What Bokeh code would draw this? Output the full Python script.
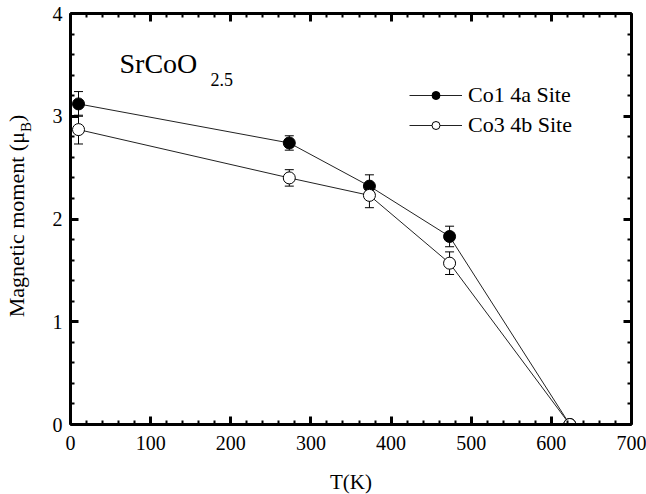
from bokeh.plotting import figure
from bokeh.models import (ColumnDataSource, Whisker, Label, Legend, LegendItem,
                          LinearAxis, SingleIntervalTicker, Range1d, Div)
from bokeh.layouts import row
from bokeh.embed import file_html
from bokeh.resources import INLINE

# ---- data ----
temp = [10, 273, 373, 473, 623]
co1 = [3.12, 2.74, 2.32, 1.83, 0.0]
co1_err = [0.12, 0.07, 0.11, 0.10, 0.0]
co3 = [2.87, 2.40, 2.23, 1.57, 0.0]
co3_err = [0.14, 0.08, 0.12, 0.11, 0.0]
series_names = ["Co1 4a Site", "Co3 4b Site"]
x_ticks_interval = 100
y_ticks_interval = 1

FONT = "Liberation Serif"

def src(y, e):
    return ColumnDataSource(dict(x=temp, y=y,
                                 lo=[a - b for a, b in zip(y, e)],
                                 hi=[a + b for a, b in zip(y, e)]))

s1 = src(co1, co1_err)
s3 = src(co3, co3_err)

LEFT_W = 34

p = figure(frame_width=561, frame_height=411, output_backend="svg",
           toolbar_location=None, x_range=Range1d(0, 700), y_range=Range1d(0, 4),
           min_border_left=70 - LEFT_W, min_border_top=13, min_border_right=15,
           min_border_bottom=40, x_axis_type=None, y_axis_type=None, margin=0)
p.xgrid.visible = False
p.ygrid.visible = False
p.outline_line_color = None
p.background_fill_color = "white"
p.border_fill_color = "white"

def style_axis(ax, labels=True):
    ax.axis_line_width = 3
    ax.axis_line_color = "black"
    ax.major_tick_in = 8
    ax.major_tick_out = 0
    ax.minor_tick_in = 4
    ax.minor_tick_out = 0
    ax.major_tick_line_width = 3
    ax.minor_tick_line_width = 2
    ax.major_tick_line_color = "black"
    ax.minor_tick_line_color = "black"
    ax.major_label_text_font = FONT
    ax.major_label_text_color = "black"
    if labels:
        ax.major_label_text_font_size = "20px"
    else:
        ax.major_label_text_font_size = "0px"
        ax.major_label_standoff = 0

xt = SingleIntervalTicker(interval=x_ticks_interval, num_minor_ticks=5)
yt = SingleIntervalTicker(interval=y_ticks_interval, num_minor_ticks=5)

xb = LinearAxis(ticker=xt, axis_label="T(K)")
style_axis(xb)
xb.major_label_standoff = 11
xb.axis_label_standoff = 17
xb.axis_label_text_font = FONT
xb.axis_label_text_font_size = "21px"
xb.axis_label_text_font_style = "normal"
xb.axis_label_text_color = "black"
p.add_layout(xb, "below")

yl = LinearAxis(ticker=yt)
style_axis(yl)
yl.major_label_standoff = 8
p.add_layout(yl, "left")

xa = LinearAxis(ticker=xt)
style_axis(xa, labels=False)
p.add_layout(xa, "above")

yr = LinearAxis(ticker=yt)
style_axis(yr, labels=False)
p.add_layout(yr, "right")

# error bars
for s in (s1, s3):
    w = Whisker(source=s, base="x", lower="lo", upper="hi", line_color="black",
                line_width=1)
    w.upper_head.size = 9
    w.lower_head.size = 9
    w.upper_head.line_width = 1
    w.lower_head.line_width = 1
    p.add_layout(w)

l1 = p.line("x", "y", source=s1, line_color="#222222", line_width=1)
m1 = p.scatter("x", "y", source=s1, size=12, fill_color="black", line_color="black")
l3 = p.line("x", "y", source=s3, line_color="#222222", line_width=1)
m3 = p.scatter("x", "y", source=s3, size=12, fill_color="white", line_color="black",
               line_width=1)

legend = Legend(items=[LegendItem(label=series_names[0], renderers=[l1, m1]),
                       LegendItem(label=series_names[1], renderers=[l3, m3])],
                location=(339, 286), orientation="vertical")
legend.label_text_font = FONT
legend.label_text_font_size = "22px"
legend.label_text_color = "black"
legend.glyph_width = 53
legend.glyph_height = 20
legend.label_standoff = 6
legend.spacing = 4
legend.padding = 0
legend.margin = 0
legend.border_line_color = None
legend.background_fill_alpha = 0
p.add_layout(legend)

# compound title
p.add_layout(Label(x=49, y=361, x_units="screen", y_units="screen", text="SrCoO",
                   text_font=FONT, text_font_size="28px", text_baseline="alphabetic",
                   text_color="black"))
p.add_layout(Label(x=140, y=345, x_units="screen", y_units="screen", text="2.5",
                   text_font=FONT, text_font_size="18px", text_baseline="alphabetic",
                   text_color="black"))

# y-axis label (rotated HTML text with subscript), to the left of the figure
ylabel_html = (
    '<div style="position:absolute; left:17px; top:216px; '
    'transform:translate(-50%,-50%) rotate(-90deg); white-space:nowrap; '
    "font-family:'Liberation Serif','Times New Roman',Times,serif; "
    'font-size:22px; line-height:1; color:black;">'
    'Magnetic moment (&mu;<span style="font-size:15px; position:relative; top:7px;">B</span>)'
    '</div>'
)
ydiv = Div(text=ylabel_html, width=LEFT_W, height=478, margin=0,
           styles={"position": "relative", "overflow": "visible"})

layout = row(ydiv, p, spacing=0)
open("out.html", "w").write(file_html(layout, INLINE))
